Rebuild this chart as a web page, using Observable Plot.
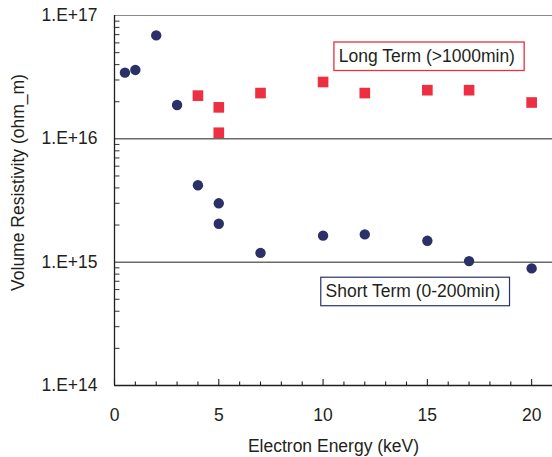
<!DOCTYPE html>
<html>
<head>
<meta charset="utf-8">
<script src="https://cdn.jsdelivr.net/npm/d3@7"></script>
<script src="https://cdn.jsdelivr.net/npm/@observablehq/plot@0.6"></script>
<style>
  body { margin: 0; background: #fff; }
  #chart { width: 552px; height: 457px; }
</style>
</head>
<body>
<div id="chart"></div>
<script>
// Volume resistivity measured after electron irradiation
const energyShort = [0.5, 1, 2, 3, 4, 5, 5, 7, 10, 12, 15, 17, 20];
const resistShort = [3.44e16, 3.62e16, 6.9e16, 1.88e16, 4.2e15, 3.0e15, 2.05e15, 1.19e15, 1.64e15, 1.68e15, 1.49e15, 1.02e15, 8.9e14];
const energyLong = [4, 5, 5, 7, 10, 12, 15, 17, 20];
const resistLong = [2.24e16, 1.8e16, 1.12e16, 2.35e16, 2.89e16, 2.35e16, 2.48e16, 2.48e16, 1.97e16];

// Axis ticks
const decadeTicks = [1e14, 1e15, 1e16, 1e17];
const energyTicks = [0, 5, 10, 15, 20];

// Series labels
const noteNames = ["Long Term (>1000min)", "Short Term (0-200min)"];
const noteEnergy = [10.75, 10.12];
const noteResist = [4.66e16, 5.77e14];

const ink = "#231f20";
const navy = "#2b3168";
const red = "#ec2f41";
const noteStroke = [red, navy];

const shortTerm = energyShort.map((e, i) => ({energy: e, resist: resistShort[i]}));
const longTerm = energyLong.map((e, i) => ({energy: e, resist: resistLong[i]}));
const notes = noteNames.map((n, i) => ({name: n, energy: noteEnergy[i], resist: noteResist[i]}));

// log minor ticks 2..9 in each decade, unit ticks along the energy axis
const minorY = [];
for (let p = 14; p < 17; ++p) for (let k = 2; k <= 9; ++k) minorY.push(k * Math.pow(10, p));
const minorX = d3.range(1, 21).filter(v => v % 5 !== 0);

const W = 552, H = 457, mt = 15, mr = 0, mb = 72, ml = 114;
const frameW = W - ml - mr, frameH = H - mt - mb;
const font = "'Liberation Sans', Arial, Helvetica, sans-serif";

const chart = Plot.plot({
  width: W,
  height: H,
  marginTop: mt,
  marginRight: mr,
  marginBottom: mb,
  marginLeft: ml,
  style: {fontFamily: font, fontSize: "17.5px", color: ink, background: "#fff", overflow: "visible"},
  x: {domain: [0, 21]},
  y: {type: "log", domain: [1e14, 1e17]},
  marks: [
    Plot.ruleY([1e17], {stroke: "#8a8a8a", strokeWidth: 1}),
    Plot.ruleY([1e15, 1e16], {stroke: "#6a6a6a", strokeWidth: 1.5}),
    // inward ticks along the left and bottom axes
    Plot.tickY(minorY, {insetRight: frameW - 5.5, stroke: "#444", strokeWidth: 1.1}),
    Plot.tickX(minorX, {insetTop: frameH - 3.5, stroke: ink, strokeWidth: 1.1}),
    Plot.tickX(energyTicks, {insetTop: frameH - 6, stroke: ink, strokeWidth: 1.1}),
    Plot.axisY({
      ticks: decadeTicks, tickSize: 0, tickPadding: 17, label: null,
      tickFormat: d => "1.E+" + Math.round(Math.log10(d)), fill: ink
    }),
    Plot.axisX({ticks: energyTicks, tickSize: 0, tickPadding: 23.5, label: null, fill: ink}),
    Plot.ruleX([0], {stroke: ink, strokeWidth: 1.3}),
    Plot.ruleY([1e14], {stroke: ink, strokeWidth: 1.3}),
    Plot.dot(shortTerm, {x: "energy", y: "resist", r: 5.2, fill: navy, stroke: "none"}),
    Plot.dot(longTerm, {x: "energy", y: "resist", r: 6, symbol: "square", fill: red, stroke: "none"}),
    Plot.text(notes, {x: "energy", y: "resist", text: "name", textAnchor: "start", lineAnchor: "middle", fill: ink, fontSize: 17.5}),
    Plot.text(["Electron Energy (keV)"], {frameAnchor: "bottom", dy: 60.4, textAnchor: "middle", lineAnchor: "middle", fill: ink, fontSize: 17.5}),
    Plot.text(["Volume Resistivity (ohm_m)"], {frameAnchor: "left", rotate: -90, dx: -96, dy: -18, textAnchor: "middle", lineAnchor: "middle", fill: ink, fontSize: 17.5})
  ]
});

document.getElementById("chart").appendChild(chart);

// outline each series label with a box in the series colour
d3.select(chart).selectAll("text").each(function() {
  const idx = noteNames.indexOf(this.textContent);
  if (idx < 0) return;
  const bb = this.getBBox();
  const cy = bb.y + bb.height / 2;
  d3.select(this.parentNode).insert("rect", () => this)
    .attr("transform", this.getAttribute("transform"))
    .attr("x", bb.x - 4.8)
    .attr("y", cy - 14)
    .attr("width", bb.width + 14)
    .attr("height", 28.5)
    .attr("fill", "#fff")
    .attr("stroke", noteStroke[idx])
    .attr("stroke-width", idx === 0 ? 1.3 : 1.2);
});
</script>
</body>
</html>
